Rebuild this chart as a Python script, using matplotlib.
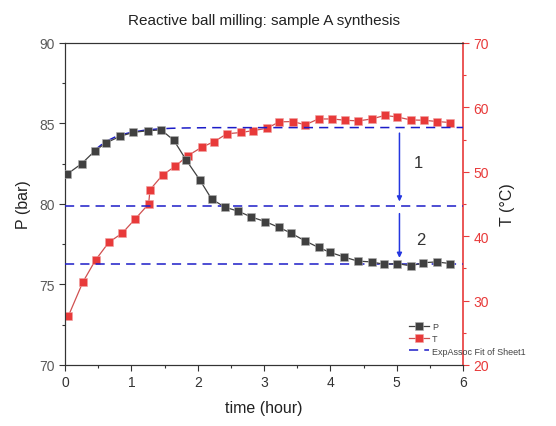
import matplotlib
matplotlib.use("Agg")
import matplotlib.pyplot as plt
from matplotlib.ticker import MultipleLocator

plt.rcParams['font.family'] = ['Liberation Sans', 'DejaVu Sans']

# pressure (bar) vs time (hour)
t_p = [0.03, 0.25, 0.45, 0.62, 0.83, 1.03, 1.25, 1.45, 1.64, 1.83, 2.03, 2.21,
       2.41, 2.61, 2.80, 3.02, 3.22, 3.40, 3.62, 3.82, 3.99, 4.21, 4.41, 4.62,
       4.81, 5.01, 5.21, 5.40, 5.60, 5.80]
p_vals = [81.85, 82.5, 83.3, 83.8, 84.2, 84.45, 84.55, 84.6, 83.95, 82.7, 81.5, 80.3,
          79.8, 79.55, 79.2, 78.9, 78.55, 78.2, 77.7, 77.3, 77.0, 76.7, 76.45, 76.4,
          76.25, 76.3, 76.15, 76.35, 76.4, 76.3]

# temperature (deg C) vs time (hour)
t_t = [0.05, 0.27, 0.46, 0.66, 0.86, 1.06, 1.26, 1.28, 1.47, 1.66, 1.85, 2.06,
       2.25, 2.44, 2.65, 2.84, 3.04, 3.23, 3.43, 3.62, 3.82, 4.03, 4.22, 4.42,
       4.62, 4.82, 5.01, 5.21, 5.41, 5.61, 5.80]
t_vals = [27.6, 32.9, 36.3, 39.05, 40.45, 42.7, 45.0, 47.2, 49.5, 50.85, 52.5, 53.8,
          54.7, 55.9, 56.1, 56.4, 56.75, 57.75, 57.8, 57.3, 58.2, 58.2, 58.0, 57.9,
          58.2, 58.75, 58.5, 58.05, 58.0, 57.8, 57.65]

# ExpAssoc fit
fit_t = [0.45, 0.6, 0.8, 1.0, 1.2, 1.4, 1.6, 1.8, 2.2, 6.0]
fit_p = [83.35, 83.85, 84.25, 84.45, 84.58, 84.66, 84.7, 84.72, 84.74, 84.75]

# horizontal reference levels (bar)
levels = [79.85, 76.27]

# arrows: (x, start, end) in P units, and step labels
arrows = [(5.04, 84.4, 80.15), (5.04, 79.4, 76.65)]
step_labels = ['1', '2']
step_pos = [(5.33, 82.6), (5.36, 77.8)]

gray = '#404040'
red = '#e83a3a'
blue = '#1c1cc8'

fig = plt.figure(figsize=(5.56, 4.27), dpi=100)
ax = fig.add_axes([0.117, 0.143, 0.716, 0.754])
ax2 = ax.twinx()

lp, = ax.plot(t_p, p_vals, '-s', color=gray, lw=0.9, ms=5.6, mec='#b0b0b0', mew=0.4,
              label='P', zorder=4)
lt, = ax2.plot(t_t, t_vals, '-s', color='#d05050', mfc=red, lw=0.9, ms=5.6,
               mec='#f0a0a0', mew=0.4, label='T', zorder=4)
lf, = ax.plot(fit_t, fit_p, '--', color=blue, lw=1.1, dashes=(6, 4),
              label='ExpAssoc Fit of Sheet1', zorder=3)
for lev in levels:
    ax.axhline(lev, color=blue, lw=1.1, ls='--', dashes=(6, 4), zorder=3)

for (x, y0, y1) in arrows:
    ax.annotate('', xy=(x, y1), xytext=(x, y0),
                arrowprops=dict(arrowstyle='-|>', color='#2436e0', lw=1.1,
                                mutation_scale=7, shrinkA=0, shrinkB=0))
for lab, (x, y) in zip(step_labels, step_pos):
    ax.text(x, y, lab, fontsize=12, color='#333333', ha='center', va='center')

ax.set_xlim(0, 6)
ax.set_ylim(70, 90)
ax2.set_ylim(20, 70)
ax.set_zorder(ax2.get_zorder() + 1)
ax.patch.set_visible(False)

ax.xaxis.set_major_locator(MultipleLocator(1))
ax.xaxis.set_minor_locator(MultipleLocator(0.5))
ax.yaxis.set_major_locator(MultipleLocator(5))
ax.yaxis.set_minor_locator(MultipleLocator(2.5))
ax2.yaxis.set_major_locator(MultipleLocator(10))
ax2.yaxis.set_minor_locator(MultipleLocator(5))

ax.tick_params(axis='both', which='major', direction='out', length=4, width=0.8,
               labelsize=10, colors='#333333')
ax.tick_params(axis='both', which='minor', direction='out', length=2.5, width=0.8,
               colors='#333333')
ax.tick_params(axis='y', labelcolor='#5a5a5a')
ax2.tick_params(axis='y', which='major', direction='out', length=4, width=0.8,
                labelsize=10, colors=red)
ax2.tick_params(axis='y', which='minor', direction='out', length=2.5, width=0.8,
                colors=red)

for s in ['left', 'top', 'bottom']:
    ax2.spines[s].set_color('#333333')
    ax.spines[s].set_color('#333333')
ax2.spines['right'].set_color(red)
ax.spines['right'].set_visible(False)
ax2.spines['right'].set_linewidth(1.2)

ax.set_xlabel('time (hour)', fontsize=11.5, color='#222222', labelpad=8)
ax.set_ylabel('P (bar)', fontsize=11.5, color='#222222', labelpad=6)
ax2.set_ylabel('T (\u00b0C)', fontsize=11.5, color='#222222', labelpad=8)
ax.set_title('Reactive ball milling: sample A synthesis', fontsize=11,
             color='#222222', pad=14)

fig.legend([lp, lt, lf], ['P', 'T', 'ExpAssoc Fit of Sheet1'],
           loc='lower left', bbox_to_anchor=(0.725, 0.15), frameon=False,
           fontsize=6.5, handlelength=2.2, handletextpad=0.3, labelspacing=0.35,
           borderpad=0.2, labelcolor='#444444')

fig.savefig('out.png', dpi=100)
